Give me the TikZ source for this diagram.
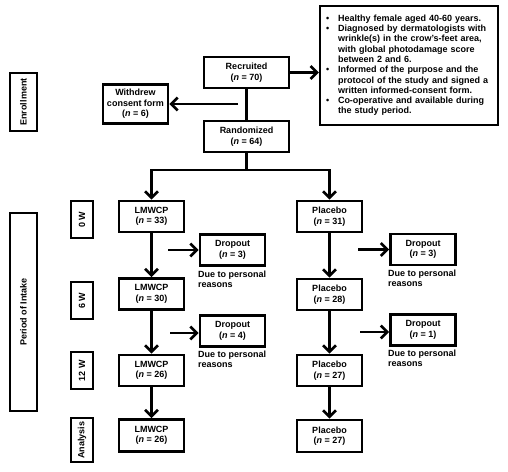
\documentclass[tikz,border=0pt]{standalone}
\usepackage{fontspec}
\setmainfont{Liberation Sans}
\usetikzlibrary{arrows.meta}
\begin{document}
\begin{tikzpicture}[x=1pt,y=-1pt,
  box/.style={draw,line width=2.7pt,align=center,inner sep=0pt,font=\bfseries\fontsize{9}{10.5}\selectfont},
  side/.style={box,rotate=90},
  arr/.style={line width=2.8pt,-{Straight Barb[length=6.5pt,width=13pt,line width=2.6pt]}},
  ln/.style={line width=2.8pt},
  note/.style={anchor=north west,align=left,inner sep=0pt,font=\bfseries\fontsize{9}{10.2}\selectfont}]
\useasboundingbox (0,0) rectangle (508,471);
% side labels
\node[side,minimum width=58pt,minimum height=27pt] (enr) at (23.5,102) {Enrollment};
\node[side,minimum width=198pt,minimum height=27pt] (per) at (23.5,312) {Period of Intake};
\node[side,minimum width=37pt,minimum height=22pt] (w0) at (82,219.5) {0 W};
\node[side,minimum width=37pt,minimum height=22pt] (w6) at (82,300.5) {6 W};
\node[side,minimum width=37pt,minimum height=22pt] (w12) at (82,370.5) {12 W};
\node[side,minimum width=44pt,minimum height=22pt] (wa) at (82,440) {Analysis};
% enrollment
\node[box,minimum width=85pt,minimum height=31pt] (rec) at (246.5,72.5) {Recruited\\(\textit{n} = 70)};
\node[box,minimum width=65pt,minimum height=39pt] (wdr) at (135.5,104) {Withdrew\\consent form\\(\textit{n} = 6)};
\node[box,minimum width=85pt,minimum height=31pt] (ran) at (246.5,136.5) {Randomized\\(\textit{n} = 64)};
\node[box,line width=2.2pt,minimum width=178pt,minimum height=119pt,text width=168pt,inner xsep=5pt,align=left,font=\bfseries\fontsize{9}{10.3}\selectfont] (crit) at (409,65.5) {%
\begin{tabular}{@{}p{13pt}@{}l@{}}
\hspace{1pt}\textbullet & Healthy female aged 40-60 years.\\
\hspace{1pt}\textbullet & Diagnosed by dermatologists with\\
 & wrinkle(s) in the crow’s-feet area,\\
 & with global photodamage score\\
 & between 2 and 6.\\
\hspace{1pt}\textbullet & Informed of the purpose and the\\
 & protocol of the study and signed a\\
 & written informed-consent form.\\
\hspace{1pt}\textbullet & Co-operative and available during\\
 & the study period.
\end{tabular}};
% arms
\node[box,minimum width=65pt,minimum height=31pt] (L0) at (151.5,216.5) {LMWCP\\(\textit{n} = 33)};
\node[box,minimum width=65pt,minimum height=31pt] (P0) at (329.5,216.5) {Placebo\\(\textit{n} = 31)};
\node[box,minimum width=65pt,minimum height=31pt] (L6) at (151.5,294) {LMWCP\\(\textit{n} = 30)};
\node[box,minimum width=65pt,minimum height=31pt] (P6) at (329.5,294.5) {Placebo\\(\textit{n} = 28)};
\node[box,minimum width=65pt,minimum height=31pt] (L12) at (151.5,370.5) {LMWCP\\(\textit{n} = 26)};
\node[box,minimum width=65pt,minimum height=31pt] (P12) at (329.5,370.5) {Placebo\\(\textit{n} = 27)};
\node[box,minimum width=65pt,minimum height=32pt] (LA) at (151.5,435.5) {LMWCP\\(\textit{n} = 26)};
\node[box,minimum width=65pt,minimum height=32pt] (PA) at (329.5,436) {Placebo\\(\textit{n} = 27)};
% dropouts
\node[box,minimum width=65pt,minimum height=31pt] (DL1) at (232.5,250) {Dropout\\(\textit{n} = 3)};
\node[box,minimum width=65pt,minimum height=31pt] (DR1) at (423,249.5) {Dropout\\(\textit{n} = 3)};
\node[box,minimum width=65pt,minimum height=31pt] (DL2) at (232.5,331) {Dropout\\(\textit{n} = 4)};
\node[box,minimum width=65pt,minimum height=31pt] (DR2) at (423,330) {Dropout\\(\textit{n} = 1)};
\node[note] (nl1) at (198,271) {Due to personal\\reasons};
\node[note] (nr1) at (388,270) {Due to personal\\reasons};
\node[note] (nl2) at (198,351) {Due to personal\\reasons};
\node[note] (nr2) at (388,350) {Due to personal\\reasons};
% connectors
\draw[arr] (rec.east) -- (rec.east -| crit.west);
\draw[ln] (rec.south) -- (ran.north);
\coordinate (wd) at (238,104);
\draw[arr] (wd) -- (wdr.east);
\coordinate (sp) at (246.5,170);
\draw[ln] (ran.south) -- (sp);
\draw[arr] (sp) -| (L0.north);
\draw[arr] (sp) -| (P0.north);
\draw[arr] (L0.south) -- (L6.north);
\draw[arr] (L6.south) -- (L12.north);
\draw[arr] (L12.south) -- (LA.north);
\draw[arr] (P0.south) -- (P6.north);
\draw[arr] (P6.south) -- (P12.north);
\draw[arr] (P12.south) -- (PA.north);
\coordinate (dl1) at (168,250);
\coordinate (dr1) at (358,249.5);
\coordinate (dl2) at (170,333);
\coordinate (dr2) at (360,332);
\draw[arr] (dl1) -- (DL1.west);
\draw[arr] (dr1) -- (DR1.west);
\draw[arr] (dl2) -- (dl2 -| DL2.west);
\draw[arr] (dr2) -- (dr2 -| DR2.west);
\end{tikzpicture}
\end{document}
